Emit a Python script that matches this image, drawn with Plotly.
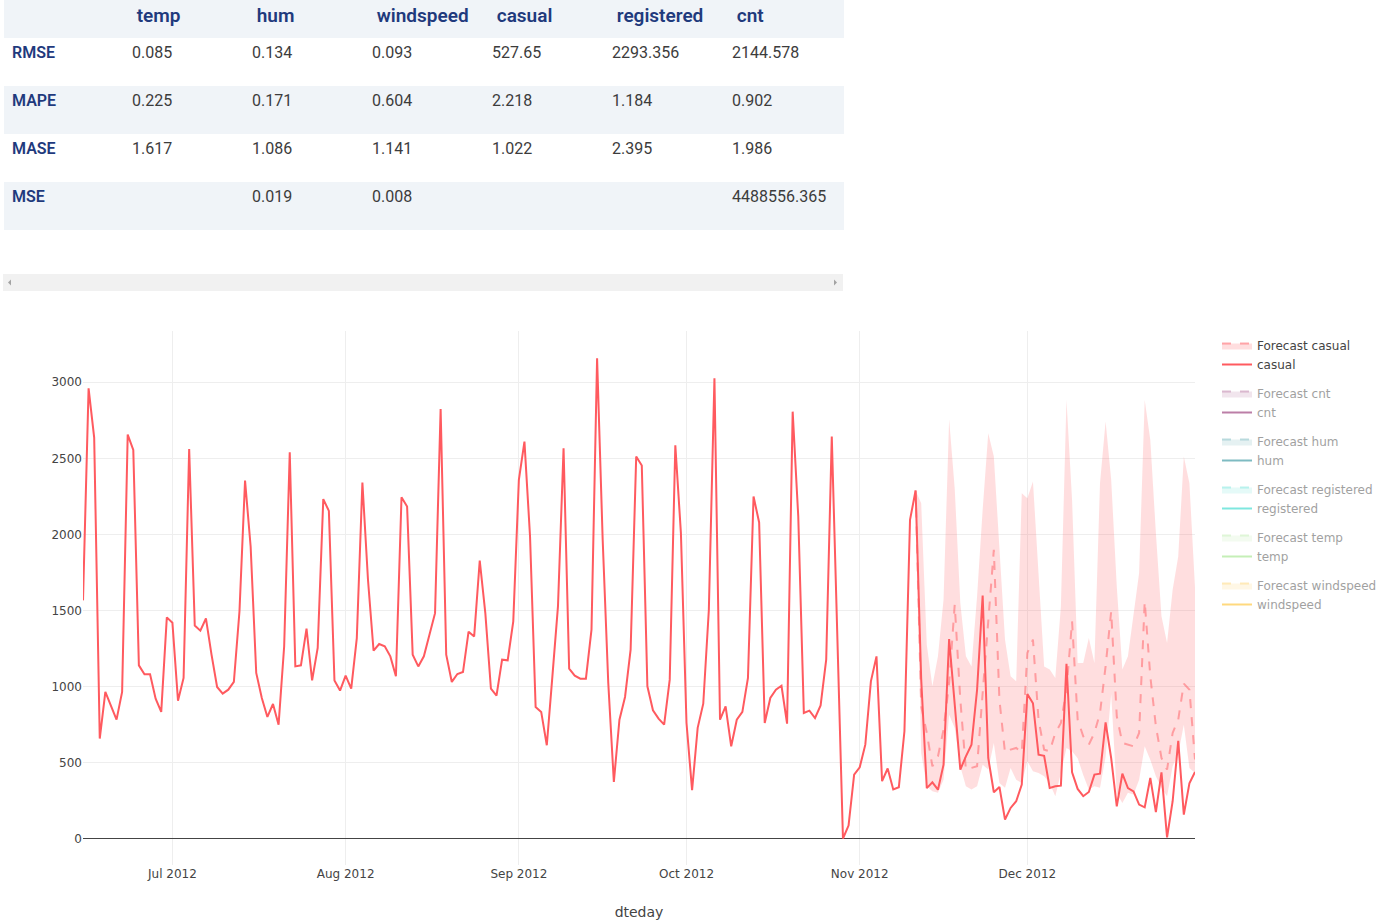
import plotly.graph_objects as go
import pandas as pd

W, H = 1385, 924

# ---------------- data ----------------
dates = pd.date_range("2012-06-15", "2012-12-31", freq="D")
casual = [
    1567, 2960, 2637, 659, 965, 875, 783, 965, 2656, 2556,
    1140, 1081, 1081, 921, 834, 1455, 1420, 908, 1057, 2562,
    1402, 1368, 1448, 1210, 998, 954, 980, 1031, 1494, 2354,
    1921, 1090, 926, 801, 886, 750, 1265, 2540, 1133, 1140,
    1381, 1041, 1254, 2232, 2155, 1041, 974, 1072, 987, 1319,
    2341, 1702, 1236, 1280, 1265, 1199, 1068, 2245, 2184, 1210,
    1133, 1199, 1341, 1483, 2825, 1210, 1031, 1083, 1096, 1361,
    1330, 1829, 1483, 987, 941, 1177, 1173, 1429, 2359, 2610,
    1987, 866, 834, 615, 1068, 1527, 2566, 1118, 1072, 1052,
    1052, 1374, 3157, 1965, 1024, 374, 783, 932, 1243, 2512,
    2453, 1002, 845, 790, 750, 1046, 2586, 2009, 761, 319,
    729, 888, 1505, 3026, 783, 871, 608, 783, 834, 1057,
    2249, 2079, 761, 926, 980, 1006, 757, 2807, 2118, 827,
    842, 794, 877, 1177, 2643, 1300, 2, 87, 422, 470,
    619, 1035, 1199, 379, 462, 324, 339, 707, 2096, 2289,
    1050, 333, 371, 323, 487, 1312, 870, 455, 542, 618,
    979, 1598, 531, 306, 341, 127, 203, 247, 356, 951,
    891, 553, 546, 334, 345, 349, 1150, 437, 328, 280,
    308, 422, 428, 765, 531, 214, 428, 334, 312, 225,
    207, 400, 175, 437, 9, 247, 644, 159, 364, 439,
]

fc_dates = pd.date_range("2012-11-11", "2012-12-31", freq="D")
fc_mean = [
    2289, 871, 696, 477, 542, 717, 1024, 1538, 915, 455,
    466, 477, 958, 1440, 1899, 915, 565, 586, 597, 565,
    1221, 1309, 783, 586, 575, 696, 761, 980, 1429, 783,
    674, 619, 696, 827, 1133, 1494, 805, 630, 619, 608,
    696, 1560, 1068, 740, 532, 455, 696, 783, 1020, 980,
    521,
]
fc_lower = [
    2289, 564, 345, 313, 302, 389, 816, 729, 475, 345,
    324, 345, 487, 455, 630, 367, 335, 466, 389, 367,
    510, 444, 433, 411, 367, 280, 433, 597, 575, 530,
    420, 324, 345, 335, 540, 950, 300, 236, 302, 291,
    389, 608, 520, 411, 335, 280, 477, 560, 750, 466,
    433,
]
fc_upper = [
    2289, 2205, 1276, 1002, 1199, 1571, 2757, 2300, 1549, 1199,
    1133, 1593, 2162, 2665, 2512, 1899, 1308, 1068, 1035, 2271,
    2238, 2348, 1746, 1133, 1112, 1057, 1527, 2884, 2227, 1155,
    1155, 1319, 1155, 2337, 2742, 2359, 1658, 1112, 1199, 1462,
    1746, 2884, 2621, 2009, 1462, 1287, 1637, 1855, 2512, 2337,
    1650,
]

series_names = ["casual", "cnt", "hum", "registered", "temp", "windspeed"]
series_colors = ["#ff5a5f", "#7b0051", "#007A87", "#00d1c1", "#8ce071", "#ffb400"]

# metrics table
metric_names = ["RMSE", "MAPE", "MASE", "MSE"]
table_columns = ["temp", "hum", "windspeed", "casual", "registered", "cnt"]
temp_metrics = ["0.085", "0.225", "1.617", ""]
hum_metrics = ["0.134", "0.171", "1.086", "0.019"]
windspeed_metrics = ["0.093", "0.604", "1.141", "0.008"]
casual_metrics = ["527.65", "2.218", "1.022", ""]
registered_metrics = ["2293.356", "1.184", "2.395", ""]
cnt_metrics = ["2144.578", "0.902", "1.986", "4488556.365"]


def rgba(hex_color, a):
    h = hex_color.lstrip("#")
    r, g, b = int(h[0:2], 16), int(h[2:4], 16), int(h[4:6], 16)
    return f"rgba({r},{g},{b},{a})"


fig = go.Figure()

# ---------------- table ----------------
NAVY = "#1f3a7d"
STRIPE = "#f0f4f8"
row_fill = ["white", STRIPE, "white", STRIPE]
fig.add_trace(go.Table(
    domain=dict(x=[4 / W, 844 / W], y=[1 - 232 / H, 1]),
    columnwidth=[120] * 7,
    header=dict(
        values=[""] + ["\u00a0" + c for c in table_columns],
        fill_color=STRIPE,
        line=dict(color="rgba(0,0,0,0)", width=0),
        align="left",
        height=38,
        font=dict(family="Roboto", size=19, color=NAVY, weight=600),
    ),
    cells=dict(
        values=[metric_names,
                temp_metrics, hum_metrics, windspeed_metrics,
                casual_metrics, registered_metrics, cnt_metrics],
        fill_color=[row_fill] * 7,
        line=dict(color="rgba(0,0,0,0)", width=0),
        align="left",
        height=48,
        font=dict(family="Roboto", size=16,
                  color=[NAVY] + ["#3c3c3c"] * 6,
                  weight=[600] + [400] * 6),
    ),
))

# ---------------- series ----------------
for name, color in zip(series_names, series_colors):
    shown = name == "casual"
    vis = True if shown else "legendonly"
    fx = fc_dates if shown else [dates[0]]
    fm = fc_mean if shown else [None]
    fl = fc_lower if shown else [None]
    fu = fc_upper if shown else [None]
    ax = dates if shown else [dates[0]]
    ay = casual if shown else [None]
    fig.add_trace(go.Scatter(
        x=fx, y=fl, mode="lines", line=dict(width=0, color=color),
        legendgroup=name, showlegend=False, visible=vis, hoverinfo="skip",
        name="Forecast " + name + " lower"))
    fig.add_trace(go.Scatter(
        x=fx, y=fm, mode="lines",
        line=dict(width=2, color=rgba(color, 0.5), dash="dash"),
        fill="tonexty", fillcolor=rgba(color, 0.2),
        legendgroup=name, showlegend=True, visible=vis,
        name="Forecast " + name))
    fig.add_trace(go.Scatter(
        x=fx, y=fu, mode="lines", line=dict(width=0, color=color),
        fill="tonexty", fillcolor=rgba(color, 0.2),
        legendgroup=name, showlegend=False, visible=vis, hoverinfo="skip",
        name="Forecast " + name + " upper"))
    fig.add_trace(go.Scatter(
        x=ax, y=ay, mode="lines", line=dict(width=2, color=color),
        legendgroup=name, showlegend=True, visible=vis, name=name))

# ---------------- scrollbar of the table ----------------
def px(x):
    return x / W


def py(y):
    return 1 - y / H


shapes = [
    dict(type="rect", xref="paper", yref="paper",
         x0=px(3), x1=px(843), y0=py(291), y1=py(274),
         fillcolor="#f1f1f1", line=dict(width=0), layer="below"),
    dict(type="path", xref="paper", yref="paper",
         path=f"M {px(11)} {py(279.5)} L {px(11)} {py(285.5)} L {px(8)} {py(282.5)} Z",
         fillcolor="#a3a3a3", line=dict(width=0)),
    dict(type="path", xref="paper", yref="paper",
         path=f"M {px(834)} {py(279.5)} L {px(834)} {py(285.5)} L {px(837)} {py(282.5)} Z",
         fillcolor="#a3a3a3", line=dict(width=0)),
]

fig.update_layout(
    template="none",
    width=W, height=H,
    margin=dict(l=0, r=0, t=0, b=0),
    paper_bgcolor="white", plot_bgcolor="white",
    font=dict(family="DejaVu Sans", size=12, color="#444"),
    shapes=shapes,
    showlegend=True,
    legend=dict(x=px(1217), y=py(331), xanchor="left", yanchor="top",
                traceorder="grouped", tracegroupgap=10,
                font=dict(size=12, color="#444"), bgcolor="rgba(0,0,0,0)"),
    xaxis=dict(
        domain=[px(83), px(1195)],
        type="date",
        range=["2012-06-15", "2012-12-31"],
        dtick="M1", tickformat="%b %Y",
        showgrid=True, gridcolor="#eee", zeroline=False,
        ticks="", showline=False,
        title=dict(text="dteday", font=dict(size=14)),
    ),
    yaxis=dict(
        domain=[py(865), py(331)],
        range=[-172, 3337],
        dtick=500,
        showgrid=True, gridcolor="#eee",
        zeroline=True, zerolinecolor="#444", zerolinewidth=1,
        ticks="", showline=False,
    ),
)

fig.write_html("out.html", config={"displayModeBar": False},
               post_script="document.body.style.margin='0';document.body.style.overflow='hidden';")
